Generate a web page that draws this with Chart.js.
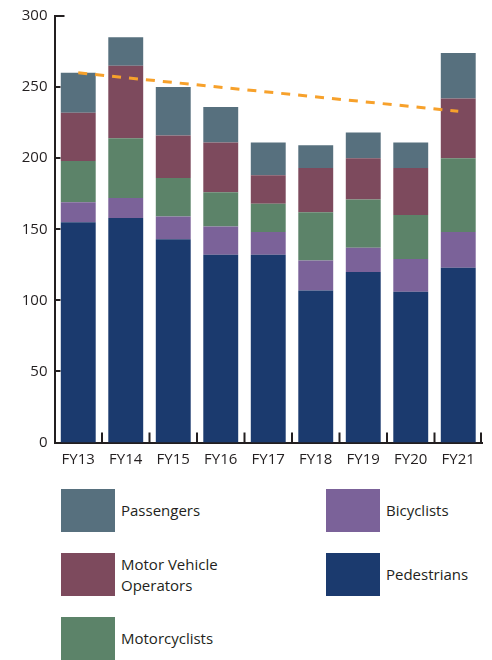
<!DOCTYPE html>
<html>
<head>
<meta charset="utf-8">
<script src="https://cdn.jsdelivr.net/npm/chart.js@4/dist/chart.umd.min.js"></script>
<style>
  html, body { margin: 0; padding: 0; background: #fff; }
  #wrap { position: relative; width: 492px; height: 660px; overflow: hidden; }
  canvas { position: absolute; left: 0; top: 0; }
  .lg { position: absolute; display: flex; align-items: center; font-family: "Open Sans", sans-serif; font-size: 15px; color: #231F20; }
  .lg .box { width: 54px; height: 43px; flex: none; }
  .lg .txt { margin-left: 6px; width: 110px; line-height: 21px; }
</style>
</head>
<body>
<div id="wrap">
  <canvas id="c" width="492" height="480"></canvas>
  <div id="legend"></div>
</div>
<script>
const categories = ["FY13", "FY14", "FY15", "FY16", "FY17", "FY18", "FY19", "FY20", "FY21"];
const pedestrians   = [155, 158, 143, 132, 132, 107, 120, 106, 123];
const bicyclists    = [14, 14, 16, 20, 16, 21, 17, 23, 25];
const motorcyclists = [29, 42, 27, 24, 20, 34, 34, 31, 52];
const motorVehicleOperators = [34, 51, 30, 35, 20, 31, 29, 33, 42];
const passengers    = [28, 20, 34, 25, 23, 16, 18, 18, 32];
const trend         = [260, null, null, null, null, null, null, null, 233];
const yTicks = [0, 50, 100, 150, 200, 250, 300];

const seriesNames = ["Pedestrians", "Bicyclists", "Motorcyclists", "Motor Vehicle Operators", "Passengers"];
const seriesColors = ["#1B3A6E", "#7B6299", "#5C8369", "#7D4A5D", "#57707E"];
const seriesData = [pedestrians, bicyclists, motorcyclists, motorVehicleOperators, passengers];

const AXIS = "#231F20";

const datasets = seriesNames.map((n, i) => ({
  type: "bar",
  label: n,
  data: seriesData[i],
  backgroundColor: seriesColors[i],
  borderWidth: 0,
  stack: "s",
  order: 1,
  barPercentage: 0.735,
  categoryPercentage: 1.0
}));
datasets.push({
  type: "line",
  label: "Trend",
  data: trend,
  borderColor: "#F7A12B",
  borderWidth: 3,
  borderDash: [9, 8],
  pointRadius: 0,
  spanGaps: true,
  fill: false,
  stack: "trend",
  order: 0
});

const tickPlugin = {
  id: "innerTicks",
  afterDraw(chart) {
    const ctx = chart.ctx;
    const ca = chart.chartArea;
    const x = chart.scales.x, y = chart.scales.y;
    ctx.save();
    ctx.strokeStyle = AXIS;
    ctx.lineWidth = 2;
    yTicks.forEach(v => {
      const py = Math.round(y.getPixelForValue(v));
      const len = v === yTicks[yTicks.length - 1] ? 10 : 6;
      ctx.beginPath();
      ctx.moveTo(ca.left, py);
      ctx.lineTo(ca.left + len, py);
      ctx.stroke();
    });
    const n = categories.length;
    const bounds = [];
    for (let i = 1; i < n; i++) {
      bounds.push((x.getPixelForValue(i - 1) + x.getPixelForValue(i)) / 2);
    }
    bounds.push(ca.right - 1);
    bounds.forEach(px => {
      ctx.beginPath();
      ctx.moveTo(px, ca.bottom);
      ctx.lineTo(px, ca.bottom - 10);
      ctx.stroke();
    });
    ctx.restore();
  }
};

const chart = new Chart(document.getElementById("c"), {
  data: { labels: categories, datasets },
  options: {
    responsive: false,
    animation: false,
    devicePixelRatio: 1,
    layout: { padding: { top: 15, right: 10, left: 0, bottom: 0 } },
    plugins: { legend: { display: false }, tooltip: { enabled: false } },
    scales: {
      x: {
        stacked: true,
        offset: true,
        grid: { display: false, drawTicks: false },
        border: { display: true, color: AXIS, width: 2 },
        ticks: { color: AXIS, font: { family: "Open Sans", size: 15 }, padding: 8, maxRotation: 0 },
        afterFit(s) { s.height = 37.5; }
      },
      y: {
        stacked: true,
        min: 0, max: 300,
        afterBuildTicks(s) { s.ticks = yTicks.map(v => ({ value: v })); },
        grid: { display: false, drawTicks: false },
        border: { display: true, color: AXIS, width: 2 },
        ticks: { color: AXIS, font: { family: "Open Sans", size: 15 }, padding: 7 },
        afterFit(s) { s.width = 54.5; }
      }
    }
  },
  plugins: [tickPlugin]
});

// HTML legend built from the datasets
const legendLayout = [
  ["Passengers", 61, 489], ["Motor Vehicle Operators", 61, 553], ["Motorcyclists", 61, 617],
  ["Bicyclists", 326, 489], ["Pedestrians", 326, 553]
];
const lg = document.getElementById("legend");
legendLayout.forEach(([name, lx, ly]) => {
  const ds = chart.data.datasets.find(d => d.label === name);
  const item = document.createElement("div");
  item.className = "lg";
  item.style.left = lx + "px";
  item.style.top = ly + "px";
  const box = document.createElement("div");
  box.className = "box";
  box.style.background = ds.backgroundColor;
  const txt = document.createElement("div");
  txt.className = "txt";
  txt.textContent = ds.label;
  item.appendChild(box);
  item.appendChild(txt);
  lg.appendChild(item);
});
</script>
</body>
</html>
